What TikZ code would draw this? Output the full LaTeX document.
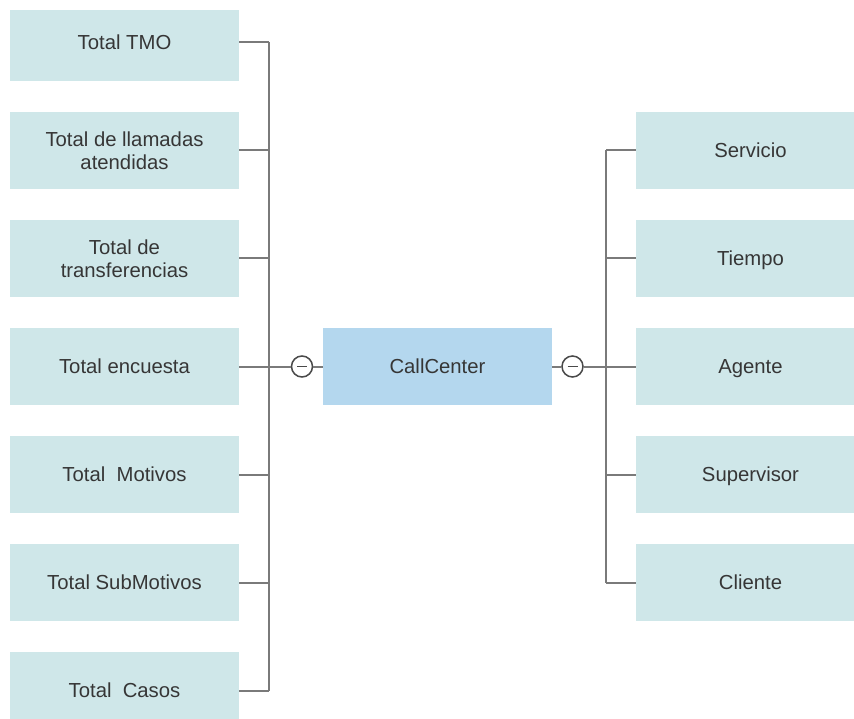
\documentclass[tikz,border=0pt]{standalone}
\usepackage{fontspec}
\setmainfont{Liberation Sans}
\begin{document}
\begin{tikzpicture}[x=1pt,y=-1pt,
  every node/.style={font=\fontsize{20.3}{23.5}\selectfont, text=txtgray},
  leafbox/.style={fill=leaf, minimum width=229pt, minimum height=77pt, inner sep=0pt, align=center},
  oneline/.style={text height=14.7pt, text depth=0pt},
  rootbox/.style={fill=root, minimum width=229pt, minimum height=77pt, inner sep=0pt, align=center},
  link/.style={draw=linkgray, line width=2pt},
  toggle/.style={circle, draw=togglegray, fill=white, line width=1.5pt, minimum size=21pt, inner sep=0pt},
]
\definecolor{leaf}{HTML}{CFE7E9}
\definecolor{root}{HTML}{B4D7EE}
\definecolor{linkgray}{HTML}{7A7A7A}
\definecolor{togglegray}{HTML}{4A4A4A}
\definecolor{txtgray}{HTML}{363636}
\useasboundingbox (0,0) rectangle (854,719);
\clip (0,0) rectangle (854,719);

% measures (left branch)
\node[leafbox, minimum height=71pt, text height=14.7pt, text depth=5.7pt] (l1) at (124.5,45.5) {Total TMO};
\node[leafbox] (l2) at (124.5,150.5) {Total de llamadas\\atendidas};
\node[leafbox] (l3) at (124.5,258.5) {Total de\\transferencias};
\node[leafbox, oneline] (l4) at (124.5,366.5) {Total encuesta};
\node[leafbox, oneline] (l5) at (124.5,474.5) {Total\ \ Motivos};
\node[leafbox, oneline] (l6) at (124.5,582.5) {Total SubMotivos};
\node[leafbox, oneline] (l7) at (124.5,690.5) {Total\ \ Casos};

% dimensions (right branch)
\node[leafbox, oneline] (r1) at (750.5,150.5) {Servicio};
\node[leafbox, oneline] (r2) at (750.5,258.5) {Tiempo};
\node[leafbox, oneline] (r3) at (750.5,366.5) {Agente};
\node[leafbox, oneline] (r4) at (750.5,474.5) {Supervisor};
\node[leafbox, oneline] (r5) at (750.5,582.5) {Cliente};

% central cube
\node[rootbox, oneline] (c) at (437.5,366.5) {CallCenter};

% junction lines
\coordinate (ls) at (269,366.5);
\coordinate (rs) at (606,366.5);
\coordinate (l1p) at (239,42);

\draw[link] (l1p -| ls) -- (l7.east -| ls);
\draw[link] (l1p) -- (l1p -| ls);
\foreach \k in {2,...,7} \draw[link] (l\k.east) -- (l\k.east -| ls);

\draw[link] (r1.west -| rs) -- (r5.west -| rs);
\foreach \k in {1,...,5} \draw[link] (r\k.west) -- (r\k.west -| rs);

% collapse toggles
\node[toggle] (tl) at (302,366.5) {};
\node[toggle] (tr) at (572.5,366.5) {};
\draw[link] (ls) -- (tl.west);
\draw[link] (tl.east) -- (c.west);
\draw[link] (c.east) -- (tr.west);
\draw[link] (tr.east) -- (rs);
\draw[draw=togglegray, line width=1.6pt] ([xshift=-5pt]tl.center) -- ([xshift=5pt]tl.center);
\draw[draw=togglegray, line width=1.6pt] ([xshift=-5pt]tr.center) -- ([xshift=5pt]tr.center);
\end{tikzpicture}
\end{document}
